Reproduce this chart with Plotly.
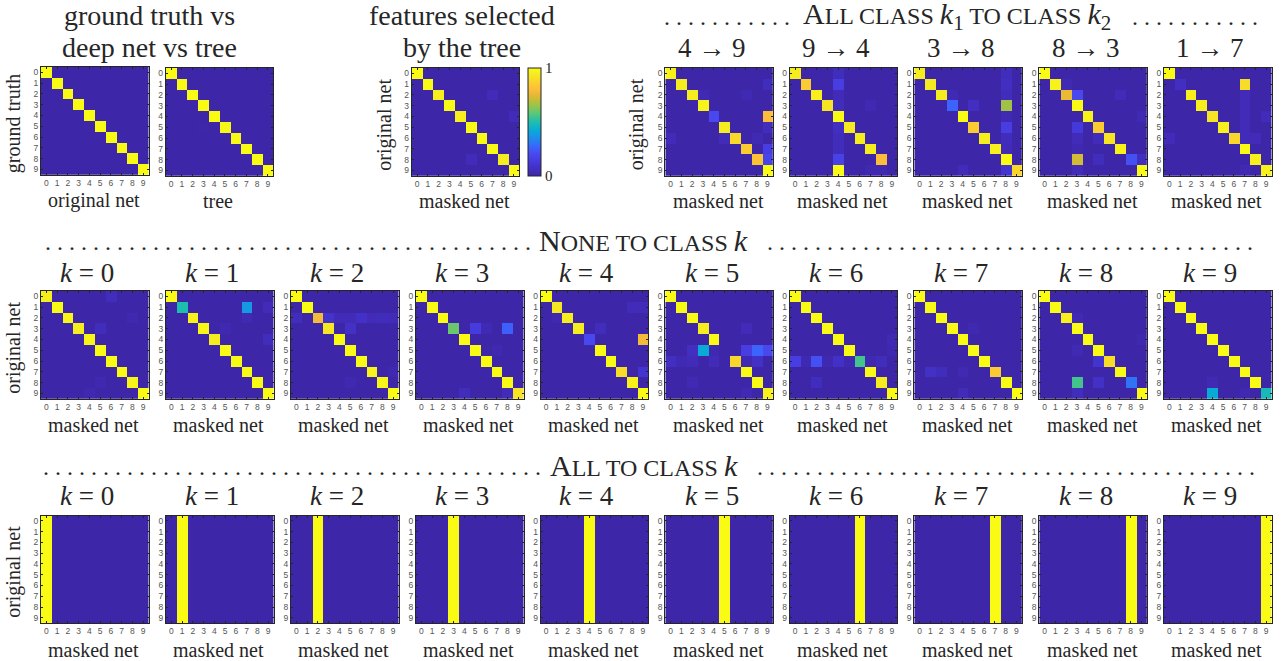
import numpy as np
import plotly.graph_objects as go

# ---------------- data ----------------
classes = [0, 1, 2, 3, 4, 5, 6, 7, 8, 9]
tick_text = ["0", "1", "2", "3", "4", "5", "6", "7", "8", "9"]

# ground truth vs original net / tree  (diagonal values, off-diagonal (row, col, value))
gt_net_diag = [1.0, 1.0, 1.0, 1.0, 1.0, 1.0, 1.0, 1.0, 1.0, 1.0]
gt_net_off = []
gt_tree_diag = [1.0, 1.0, 1.0, 1.0, 1.0, 0.99, 1.0, 1.0, 1.0, 1.0]
gt_tree_off = [(5, 3, 0.01)]

# features selected by the tree
feat_diag = [1.0, 1.0, 0.96, 1.0, 0.96, 1.0, 1.0, 1.0, 0.95, 1.0]
feat_off = [(2, 7, 0.04), (4, 9, 0.04), (8, 5, 0.04)]

# all class k1 to class k2
pair_titles = ["4 \u2192 9", "9 \u2192 4", "3 \u2192 8", "8 \u2192 3", "1 \u2192 7"]
pair_49_diag = [0.97, 0.95, 0.95, 0.97, 0.2, 0.95, 0.89, 0.85, 0.82, 1.0]
pair_49_off = [(1, 9, 0.05), (2, 3, 0.03), (2, 7, 0.03), (4, 9, 0.8), (5, 9, 0.05),
               (6, 0, 0.04), (6, 5, 0.04), (6, 8, 0.03), (7, 9, 0.15), (8, 9, 0.18)]
pair_94_diag = [0.95, 0.85, 0.96, 0.92, 1.0, 0.94, 0.95, 0.95, 0.8, 0.0]
pair_94_off = [(0, 4, 0.05), (1, 4, 0.15), (2, 4, 0.04), (3, 4, 0.05), (3, 7, 0.03),
               (5, 4, 0.06), (6, 4, 0.05), (7, 4, 0.05), (8, 4, 0.17), (9, 4, 1.0),
               (9, 7, 0.02), (9, 8, 0.02)]
pair_38_diag = [0.95, 0.94, 0.95, 0.27, 1.0, 0.85, 0.95, 0.96, 1.0, 0.88]
pair_38_off = [(0, 8, 0.05), (1, 8, 0.06), (2, 8, 0.05), (2, 3, 0.03), (3, 5, 0.06),
               (3, 8, 0.66), (4, 8, 0.03), (5, 8, 0.15), (6, 8, 0.05), (7, 8, 0.04),
               (9, 4, 0.04), (9, 8, 0.1)]
pair_83_diag = [1.0, 0.97, 0.76, 1.0, 0.97, 0.85, 0.92, 0.97, 0.22, 1.0]
pair_83_off = [(1, 2, 0.03), (2, 3, 0.2), (2, 7, 0.04), (4, 9, 0.03), (5, 3, 0.13),
               (6, 3, 0.04), (6, 5, 0.04), (7, 3, 0.02), (8, 3, 0.72), (8, 5, 0.05),
               (8, 9, 0.06), (9, 3, 0.04)]
pair_17_diag = [1.0, 0.06, 0.96, 0.96, 0.92, 0.96, 0.88, 1.0, 0.96, 0.97]
pair_17_off = [(1, 7, 0.9), (2, 7, 0.04), (3, 7, 0.04), (4, 7, 0.04), (4, 9, 0.04),
               (5, 7, 0.04), (6, 0, 0.04), (6, 7, 0.04), (6, 8, 0.04), (9, 7, 0.03)]

# none to class k
none_titles = ["<i>k</i> = 0", "<i>k</i> = 1", "<i>k</i> = 2", "<i>k</i> = 3", "<i>k</i> = 4",
               "<i>k</i> = 5", "<i>k</i> = 6", "<i>k</i> = 7", "<i>k</i> = 8", "<i>k</i> = 9"]
none_k0_diag = [0.95, 1.0, 0.98, 0.95, 0.98, 1.0, 1.0, 1.0, 0.98, 1.0]
none_k0_off = [(0, 6, 0.05), (3, 5, 0.05), (8, 5, 0.02), (9, 4, 0.02), (2, 8, 0.02)]
none_k1_diag = [1.0, 0.5, 0.97, 0.98, 0.95, 1.0, 1.0, 1.0, 1.0, 1.0]
none_k1_off = [(1, 7, 0.38), (1, 9, 0.04), (2, 7, 0.03), (3, 5, 0.02), (4, 9, 0.05)]
none_k2_diag = [1.0, 1.0, 0.78, 0.93, 1.0, 1.0, 1.0, 0.98, 0.98, 1.0]
none_k2_off = [(2, 0, 0.05), (2, 3, 0.09), (2, 4, 0.04), (2, 5, 0.04), (2, 6, 0.08),
               (2, 7, 0.04), (2, 8, 0.05), (2, 9, 0.04), (3, 5, 0.07), (7, 9, 0.02),
               (8, 5, 0.02)]
none_k3_diag = [1.0, 1.0, 1.0, 0.6, 1.0, 1.0, 1.0, 1.0, 1.0, 0.92]
none_k3_off = [(3, 5, 0.14), (3, 6, 0.03), (3, 8, 0.26), (5, 7, 0.02), (9, 4, 0.05),
               (9, 8, 0.04)]
none_k4_diag = [1.0, 0.93, 0.95, 0.95, 0.2, 1.0, 1.0, 0.9, 0.97, 1.0]
none_k4_off = [(1, 8, 0.04), (1, 9, 0.04), (3, 5, 0.05), (4, 9, 0.78), (7, 9, 0.1),
               (2, 1, 0.02)]
none_k5_diag = [1.0, 1.0, 1.0, 0.95, 1.0, 0.0, 0.88, 1.0, 1.0, 0.97]
none_k5_off = [(3, 7, 0.04), (5, 2, 0.06), (5, 3, 0.42), (5, 4, 0.02), (5, 7, 0.15),
               (5, 8, 0.27), (5, 9, 0.2), (6, 0, 0.06), (6, 1, 0.03), (6, 2, 0.04),
               (6, 4, 0.04), (6, 7, 0.03), (6, 8, 0.07), (8, 2, 0.03), (9, 7, 0.03)]
none_k6_diag = [1.0, 1.0, 1.0, 1.0, 1.0, 1.0, 0.55, 1.0, 0.95, 1.0]
none_k6_off = [(6, 0, 0.15), (6, 1, 0.02), (6, 2, 0.22), (6, 3, 0.02), (6, 4, 0.08),
               (6, 5, 0.02), (6, 7, 0.02), (6, 8, 0.05), (8, 2, 0.05), (4, 9, 0.03),
               (5, 9, 0.02)]
none_k7_diag = [1.0, 1.0, 1.0, 1.0, 1.0, 1.0, 1.0, 0.84, 1.0, 1.0]
none_k7_off = [(7, 1, 0.07), (7, 2, 0.05), (7, 4, 0.03), (9, 4, 0.04), (3, 5, 0.02)]
none_k8_diag = [1.0, 1.0, 0.96, 1.0, 1.0, 1.0, 0.9, 1.0, 0.3, 1.0]
none_k8_off = [(2, 3, 0.03), (4, 9, 0.02), (5, 3, 0.03), (6, 5, 0.1), (8, 3, 0.55),
               (8, 5, 0.08), (9, 3, 0.05)]
none_k9_diag = [1.0, 1.0, 1.0, 1.0, 1.0, 1.0, 1.0, 1.0, 1.0, 0.48]
none_k9_off = [(8, 4, 0.03), (9, 4, 0.42), (9, 7, 0.02)]

# all to class k : every row goes to column k
all_targets = [0, 1, 2, 3, 4, 5, 6, 7, 8, 9]
all_column_values = [1.0, 1.0, 1.0, 1.0, 1.0, 1.0, 1.0, 1.0, 1.0, 1.0]

# ---------------- styling ----------------
W, H = 1284, 661
PW, PH = 107.5, 107.7
col_left = [41, 166, 291, 416, 540.7, 665.3, 789.7, 914.3, 1039.3, 1164]
row_top = [68, 291, 515.5]
SERIF = "Liberation Serif"
TXT = "#262626"

parula = [
    [0.00, "rgb(62,38,168)"], [0.06, "rgb(66,46,192)"], [0.13, "rgb(70,57,218)"],
    [0.20, "rgb(72,72,238)"], [0.27, "rgb(60,100,252)"], [0.35, "rgb(30,140,235)"],
    [0.42, "rgb(10,170,215)"], [0.50, "rgb(30,190,175)"], [0.58, "rgb(90,200,120)"],
    [0.66, "rgb(160,195,70)"], [0.74, "rgb(225,185,50)"], [0.80, "rgb(252,188,60)"],
    [0.87, "rgb(250,210,45)"], [0.93, "rgb(245,232,35)"], [1.00, "rgb(249,251,20)"],
]


def build(diag, off):
    z = np.zeros((10, 10))
    for i, v in enumerate(diag):
        z[i, i] = v
    for r, c, v in off:
        z[r, c] = v
    return z


def build_all(k):
    z = np.zeros((10, 10))
    z[:, k] = all_column_values
    return z


panels = []  # (left, top, z, title, ytitle, xtitle, ytitle_x)
panels.append((41, 67, build(gt_net_diag, gt_net_off), None, "ground truth", "original net", 14.3))
panels.append((165.7, row_top[0], build(gt_tree_diag, gt_tree_off), None, None, "tree", None))
panels.append((411.7, row_top[0], build(feat_diag, feat_off), None, "original net", "masked net", 384.8))
pair_data = [(pair_49_diag, pair_49_off), (pair_94_diag, pair_94_off), (pair_38_diag, pair_38_off),
             (pair_83_diag, pair_83_off), (pair_17_diag, pair_17_off)]
for j, (d, o) in enumerate(pair_data):
    panels.append((col_left[5 + j], row_top[0], build(d, o), pair_titles[j],
                   "original net" if j == 0 else None, "masked net", 636.5 if j == 0 else None))
none_data = [(none_k0_diag, none_k0_off), (none_k1_diag, none_k1_off), (none_k2_diag, none_k2_off),
             (none_k3_diag, none_k3_off), (none_k4_diag, none_k4_off), (none_k5_diag, none_k5_off),
             (none_k6_diag, none_k6_off), (none_k7_diag, none_k7_off), (none_k8_diag, none_k8_off),
             (none_k9_diag, none_k9_off)]
for j, (d, o) in enumerate(none_data):
    panels.append((col_left[j], row_top[1], build(d, o), none_titles[j],
                   "original net" if j == 0 else None, "masked net", 13.8 if j == 0 else None))
for j, k in enumerate(all_targets):
    panels.append((col_left[j], row_top[2], build_all(k), none_titles[j],
                   "original net" if j == 0 else None, "masked net", 13.5 if j == 0 else None))

title_mid = {68: 47.6, 291: 272.6, 515.5: 496.0}
xtitle_mid = {67: 201.0, 68: 201.0, 291: 425.0, 515.5: 650.0}

fig = go.Figure()
annotations = []
axis_common = dict(showgrid=False, zeroline=False, ticks="inside", ticklen=2, tickcolor=TXT,
                   tickwidth=0.8, showline=True, linecolor=TXT, linewidth=1, mirror="ticks",
                   tickvals=classes, ticktext=tick_text, fixedrange=True,
                   tickfont=dict(family="Liberation Sans", size=8.5, color="#555555"))

def fx(x):
    return x / W

def fy(y):
    return 1 - y / H

for n, (left, top, z, title, ytitle, xtitle, ytx) in enumerate(panels, start=1):
    fig.add_trace(go.Heatmap(z=z, x=classes, y=classes, coloraxis="coloraxis",
                             xaxis=f"x{n}", yaxis=f"y{n}", hoverinfo="skip"))
    fig.layout[f"xaxis{n}"] = dict(domain=[fx(left), fx(left + PW)], anchor=f"y{n}",
                                   range=[-0.5, 9.5], **axis_common)
    fig.layout[f"yaxis{n}"] = dict(domain=[fy(top + PH), fy(top)], anchor=f"x{n}",
                                   range=[9.5, -0.5], **axis_common)
    cx = left + PW / 2
    if title:
        annotations.append(dict(text=title, x=fx(cx - 7.5), y=fy(title_mid[top]), xref="paper",
                                yref="paper", showarrow=False, xanchor="center", yanchor="middle",
                                font=dict(family=SERIF, size=27, color=TXT)))
    if xtitle:
        annotations.append(dict(text=xtitle, x=fx(cx - 1), y=fy(xtitle_mid[top]), xref="paper",
                                yref="paper", showarrow=False, xanchor="center", yanchor="middle",
                                font=dict(family=SERIF, size=20, color=TXT)))
    if ytitle:
        annotations.append(dict(text=ytitle, x=fx(ytx), y=fy(top + PH / 2 + 3), xref="paper",
                                yref="paper", showarrow=False, xanchor="center", yanchor="middle",
                                textangle=-90, font=dict(family=SERIF, size=20, color=TXT)))

# row-1 block titles
for text, cx in [("ground truth vs", 149), ("features selected", 462)]:
    annotations.append(dict(text=text, x=fx(cx), y=fy(15.5), xref="paper", yref="paper",
                            showarrow=False, xanchor="center", yanchor="middle",
                            font=dict(family=SERIF, size=28, color=TXT)))
for text, cx in [("deep net vs tree", 149), ("by the tree", 462)]:
    annotations.append(dict(text=text, x=fx(cx), y=fy(47.5), xref="paper", yref="paper",
                            showarrow=False, xanchor="center", yanchor="middle",
                            font=dict(family=SERIF, size=28, color=TXT)))

# section headers in small caps with dotted leaders
SC = "<span style='font-size:24px'>"
headers = [
    ("A" + SC + "LL CLASS </span><i>k</i><sub>1</sub>" + SC + " TO CLASS </span><i>k</i><sub>2</sub>",
     957, 15.5, 792, 11, 1130, 11),
    ("N" + SC + "ONE TO CLASS </span><i>k</i>", 644, 240.5, 533, 41, 765, 41),
    ("A" + SC + "LL TO CLASS </span><i>k</i>", 644, 465.5, 543, 42, 755, 42),
]
for text, cx, ym, lend, nl, rstart, nr in headers:
    annotations.append(dict(text=text, x=fx(cx), y=fy(ym), xref="paper", yref="paper",
                            showarrow=False, xanchor="center", yanchor="middle",
                            font=dict(family=SERIF, size=30, color=TXT)))
    annotations.append(dict(text=" ".join(["."] * nl), x=fx(lend), y=fy(ym + 1.4), xref="paper",
                            yref="paper", showarrow=False, xanchor="right", yanchor="middle",
                            font=dict(family=SERIF, size=24, color=TXT)))
    annotations.append(dict(text=" ".join(["."] * nr), x=fx(rstart), y=fy(ym + 1.4), xref="paper",
                            yref="paper", showarrow=False, xanchor="left", yanchor="middle",
                            font=dict(family=SERIF, size=24, color=TXT)))

fig.update_layout(
    width=W, height=H, margin=dict(l=0, r=0, t=0, b=0),
    paper_bgcolor="white", plot_bgcolor="white", showlegend=False,
    annotations=annotations,
    coloraxis=dict(cmin=0, cmax=1, colorscale=parula,
                   colorbar=dict(x=fx(528), xanchor="left", xpad=0, ypad=0,
                                 y=fy(121.85), yanchor="middle", len=107.7 / H, lenmode="fraction",
                                 thickness=12.7, thicknessmode="pixels",
                                 outlinewidth=1, outlinecolor=TXT,
                                 tickvals=[0, 1], ticktext=["0", "1"], ticks="inside", ticklen=2,
                                 tickcolor=TXT,
                                 tickfont=dict(family=SERIF, size=15, color=TXT))),
)

fig.write_html("out.html", config={"displayModeBar": False},
               post_script="document.body.style.margin='0';")
